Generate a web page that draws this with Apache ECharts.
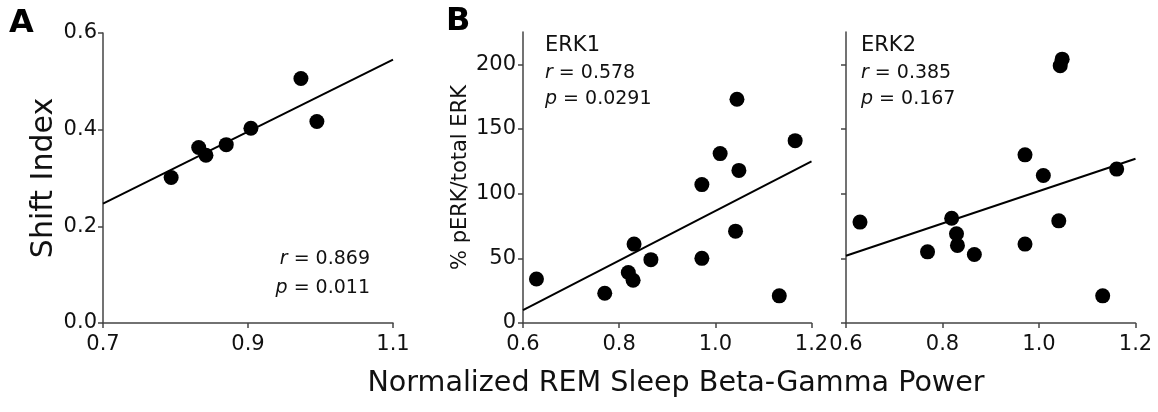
<!DOCTYPE html>
<html>
<head>
<meta charset="utf-8">
<script src="https://cdn.jsdelivr.net/npm/echarts@6/dist/echarts.min.js"></script>
<style>
  html, body { margin: 0; padding: 0; background: #fff; }
  #chart { width: 1158px; height: 412px; }
</style>
</head>
<body>
<div id="chart"></div>
<script>
const FONT = "DejaVu Sans";

// panel A - shift index
const aX = [0.794, 0.832, 0.842, 0.870, 0.904, 0.973, 0.995];
const aY = [0.301, 0.363, 0.347, 0.369, 0.403, 0.506, 0.417];
const aFit = [[0.7, 0.247], [1.1, 0.545]];

// panel B - ERK1 / ERK2
const erk1X = [0.628, 0.770, 0.819, 0.829, 0.831, 0.866, 0.972, 0.972, 1.010, 1.045, 1.049, 1.042, 1.133, 1.166];
const erk1Y = [34, 23, 39, 33, 61, 49, 107, 50, 131, 173, 118, 71, 21, 141];
const erk1Fit = [[0.6, 10], [1.2, 125]];

const erk2X = [0.629, 0.769, 0.819, 0.829, 0.831, 0.866, 0.971, 0.971, 1.009, 1.044, 1.048, 1.041, 1.132, 1.161];
const erk2Y = [78, 55, 81, 69, 60, 53, 130, 61, 114, 199, 204, 79, 21, 119];
const erk2Fit = [[0.6, 52], [1.2, 127]];

const bYTicks = [0, 50, 100, 150, 200];

const pts = (xs, ys) => xs.map((x, i) => [x, ys[i]]);

const axisLine = { show: true, lineStyle: { color: "#444", width: 1.5 } };
const axisTick = { show: true, length: 5, lineStyle: { color: "#444", width: 1.5 } };
const lbl = { color: "#111", fontFamily: FONT, fontSize: 21 };

function xAx(grid, min, max) {
  return {
    type: "value", gridIndex: grid, min: min, max: max, interval: 0.2,
    axisLine: axisLine, axisTick: axisTick, splitLine: { show: false },
    axisLabel: Object.assign({ margin: 11, formatter: (v) => v.toFixed(1) }, lbl),
  };
}

function scatter(i, data) {
  return {
    type: "scatter", xAxisIndex: i, yAxisIndex: i, data: data,
    symbolSize: 15, itemStyle: { color: "#000", opacity: 1 }, silent: true,
  };
}
function fit(i, data) {
  return {
    type: "line", xAxisIndex: i, yAxisIndex: i, data: data, showSymbol: false,
    lineStyle: { color: "#000", width: 2 }, silent: true, z: 1,
  };
}

function note(x, y, txt, align) {
  return {
    type: "text", x: x, y: y,
    style: {
      text: txt, fill: "#111", font: "19px '" + FONT + "'",
      align: align || "left", verticalAlign: "middle",
      rich: { i: { fontStyle: "italic", fontFamily: FONT, fontSize: 19, fill: "#111" } },
    },
  };
}

let chart = echarts.init(document.getElementById("chart"));
let option = {
  backgroundColor: "#fff",
  animation: false,
  grid: [
    { left: 103, top: 33, width: 290, bottom: 89, outerBoundsMode: "none" },
    { left: 523, top: 32, width: 288.5, bottom: 89, outerBoundsMode: "none" },
    { left: 846, top: 32, width: 289.5, bottom: 89, outerBoundsMode: "none" },
  ],
  xAxis: [xAx(0, 0.7, 1.1), xAx(1, 0.6, 1.2), xAx(2, 0.6, 1.2)],
  yAxis: [
    {
      type: "value", gridIndex: 0, min: 0, max: 0.6, interval: 0.2,
      axisLine: axisLine, axisTick: axisTick, splitLine: { show: false },
      axisLabel: Object.assign({ margin: 6, formatter: (v) => v.toFixed(1) }, lbl),
      name: "Shift Index", nameLocation: "middle", nameRotate: 90, nameGap: 44,
      nameTextStyle: { fontFamily: FONT, fontSize: 30, color: "#111" },
    },
    {
      type: "value", gridIndex: 1, min: 0, max: 225,
      axisLine: axisLine, splitLine: { show: false },
      axisTick: Object.assign({ customValues: bYTicks }, axisTick),
      axisLabel: Object.assign({ margin: 7, customValues: bYTicks }, lbl),
      name: "% pERK/total ERK", nameLocation: "middle", nameRotate: 90, nameGap: 52,
      nameTextStyle: { fontFamily: FONT, fontSize: 21, color: "#111" },
    },
    {
      type: "value", gridIndex: 2, min: 0, max: 225,
      axisLine: axisLine, splitLine: { show: false },
      axisTick: Object.assign({ customValues: bYTicks }, axisTick),
      axisLabel: { show: false },
    },
  ],
  series: [
    fit(0, aFit), scatter(0, pts(aX, aY)),
    fit(1, erk1Fit), scatter(1, pts(erk1X, erk1Y)),
    fit(2, erk2Fit), scatter(2, pts(erk2X, erk2Y)),
  ],
  graphic: [
    { type: "text", x: 9, y: 24, style: { text: "A", fill: "#000", font: "bold 32px '" + FONT + "'", verticalAlign: "middle" } },
    { type: "text", x: 446, y: 22, style: { text: "B", fill: "#000", font: "bold 32px '" + FONT + "'", verticalAlign: "middle" } },
    note(370, 259, "{i|r} = 0.869", "right"),
    note(370, 288, "{i|p} = 0.011", "right"),
    { type: "text", x: 545, y: 46, style: { text: "ERK1", fill: "#111", font: "21px '" + FONT + "'", verticalAlign: "middle" } },
    note(545, 73, "{i|r} = 0.578"),
    note(545, 99, "{i|p} = 0.0291"),
    { type: "text", x: 861, y: 46, style: { text: "ERK2", fill: "#111", font: "21px '" + FONT + "'", verticalAlign: "middle" } },
    note(861, 73, "{i|r} = 0.385"),
    note(861, 99, "{i|p} = 0.167"),
    {
      type: "text", x: 676, y: 384,
      style: { text: "Normalized REM Sleep Beta-Gamma Power", fill: "#111", font: "28.6px '" + FONT + "'", align: "center", verticalAlign: "middle" },
    },
  ],
};
chart.setOption(option);
</script>
</body>
</html>
